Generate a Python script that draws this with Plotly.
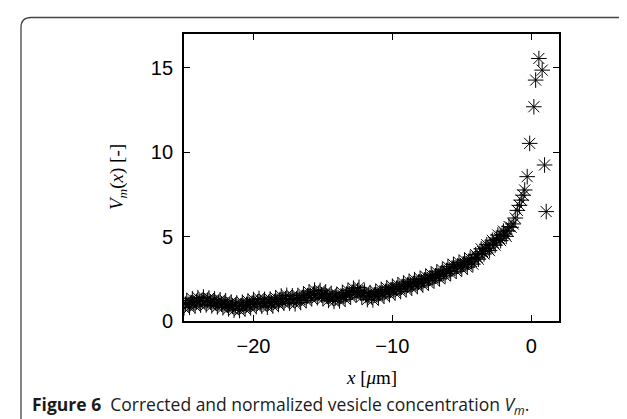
import plotly.graph_objects as go

# ---- data ----
x_dense = [
    -25.0, -24.8, -24.6, -24.4, -24.2, -24.0, -23.8, -23.6, -23.4, -23.2,
    -23.0, -22.8, -22.6, -22.4, -22.2, -22.0, -21.8, -21.6, -21.4, -21.2,
    -21.0, -20.8, -20.6, -20.4, -20.2, -20.0, -19.8, -19.6, -19.4, -19.2,
    -19.0, -18.8, -18.6, -18.4, -18.2, -18.0, -17.8, -17.6, -17.4, -17.2,
    -17.0, -16.8, -16.6, -16.4, -16.2, -16.0, -15.8, -15.6, -15.4, -15.2,
    -15.0, -14.8, -14.6, -14.4, -14.2, -14.0, -13.8, -13.6, -13.4, -13.2,
    -13.0, -12.8, -12.6, -12.4, -12.2, -12.0, -11.8, -11.6, -11.4, -11.2,
    -11.0, -10.8, -10.6, -10.4, -10.2, -10.0, -9.8, -9.6, -9.4, -9.2,
    -9.0, -8.8, -8.6, -8.4, -8.2, -8.0, -7.8, -7.6, -7.4, -7.2,
    -7.0, -6.8, -6.6, -6.4, -6.2, -6.0, -5.8, -5.6, -5.4, -5.2,
    -5.0, -4.8, -4.6, -4.4, -4.2, -4.0, -3.8, -3.6, -3.4, -3.2,
    -3.0, -2.8, -2.6, -2.4, -2.2, -2.0, -1.8, -1.6,
]
v_dense = [
    0.78, 1.22, 0.81, 1.32, 0.88, 1.38, 0.94, 1.42, 0.96, 1.36,
    0.90, 1.31, 0.84, 1.26, 0.79, 1.20, 0.72, 1.12, 0.64, 1.07,
    0.62, 1.11, 0.71, 1.19, 0.78, 1.27, 0.85, 1.34, 0.88, 1.28,
    0.82, 1.30, 0.89, 1.38, 0.98, 1.48, 1.05, 1.52, 1.06, 1.49,
    1.02, 1.51, 1.10, 1.60, 1.21, 1.72, 1.32, 1.83, 1.38, 1.81,
    1.32, 1.72, 1.22, 1.63, 1.16, 1.58, 1.19, 1.69, 1.29, 1.81,
    1.42, 1.94, 1.55, 1.99, 1.43, 1.77, 1.27, 1.68, 1.25, 1.76,
    1.37, 1.87, 1.47, 1.97, 1.56, 2.06, 1.66, 2.15, 1.75, 2.25,
    1.85, 2.35, 1.95, 2.45, 2.04, 2.52, 2.13, 2.65, 2.25, 2.77,
    2.39, 2.90, 2.50, 3.03, 2.67, 3.22, 2.83, 3.35, 2.95, 3.47,
    3.09, 3.60, 3.19, 3.72, 3.37, 3.93, 3.66, 4.27, 3.97, 4.52,
    4.17, 4.78, 4.49, 5.09, 4.76, 5.32, 5.01, 5.60,
]
x_mid = [
    -24.9, -24.7, -24.5, -24.3, -24.1, -23.9, -23.7, -23.5, -23.3, -23.1,
    -22.9, -22.7, -22.5, -22.3, -22.1, -21.9, -21.7, -21.5, -21.3, -21.1,
    -20.9, -20.7, -20.5, -20.3, -20.1, -19.9, -19.7, -19.5, -19.3, -19.1,
    -18.9, -18.7, -18.5, -18.3, -18.1, -17.9, -17.7, -17.5, -17.3, -17.1,
    -16.9, -16.7, -16.5, -16.3, -16.1, -15.9, -15.7, -15.5, -15.3, -15.1,
    -14.9, -14.7, -14.5, -14.3, -14.1, -13.9, -13.7, -13.5, -13.3, -13.1,
    -12.9, -12.7, -12.5, -12.3, -12.1, -11.9, -11.7, -11.5, -11.3, -11.1,
    -10.9, -10.7, -10.5, -10.3, -10.1, -9.9, -9.7, -9.5, -9.3, -9.1,
    -8.9, -8.7, -8.5, -8.3, -8.1, -7.9, -7.7, -7.5, -7.3, -7.1,
    -6.9, -6.7, -6.5, -6.3, -6.1, -5.9, -5.7, -5.5, -5.3, -5.1,
    -4.9, -4.7, -4.5, -4.3, -4.1, -3.9, -3.7, -3.5, -3.3, -3.1,
    -2.9, -2.7, -2.5, -2.3, -2.1, -1.9, -1.7,
]
v_mid = [
    1.00, 0.99, 1.09, 1.07, 1.16, 1.14, 1.22, 1.17, 1.20, 1.12,
    1.14, 1.06, 1.08, 1.00, 1.03, 0.95, 0.96, 0.87, 0.90, 0.84,
    0.90, 0.89, 0.98, 0.97, 1.06, 1.05, 1.13, 1.09, 1.12, 1.04,
    1.10, 1.08, 1.16, 1.16, 1.27, 1.25, 1.32, 1.28, 1.31, 1.24,
    1.30, 1.29, 1.39, 1.39, 1.50, 1.51, 1.61, 1.59, 1.63, 1.55,
    1.56, 1.46, 1.46, 1.38, 1.40, 1.37, 1.47, 1.47, 1.58, 1.60,
    1.71, 1.72, 1.80, 1.68, 1.63, 1.51, 1.51, 1.45, 1.54, 1.55,
    1.66, 1.66, 1.75, 1.75, 1.85, 1.84, 1.94, 1.94, 2.04, 2.04,
    2.14, 2.14, 2.23, 2.22, 2.31, 2.31, 2.42, 2.43, 2.55, 2.57,
    2.68, 2.68, 2.79, 2.83, 2.98, 3.01, 3.12, 3.13, 3.25, 3.27,
    3.38, 3.38, 3.49, 3.53, 3.68, 3.77, 4.00, 4.11, 4.28, 4.33,
    4.51, 4.62, 4.82, 4.90, 5.07, 5.15, 5.34,
]
x_tail = [-1.45, -1.30, -1.15, -1.00, -0.85, -0.72, -0.58, -0.47, -0.29,
          -0.11, 0.19, 0.32, 0.55, 0.79, 0.96, 1.08]
v_tail = [5.55, 5.75, 6.10, 6.55, 6.85, 7.16, 7.45, 7.76, 8.55,
          10.52, 12.69, 14.27, 15.55, 14.86, 9.24, 6.48]

x_ticks = [-20, -10, 0]
y_ticks = [0, 5, 10, 15]

x_all = x_dense + x_mid + x_tail
v_all = v_dense + v_mid + v_tail

# ---- layout geometry (pixels) ----
W, H = 627, 419
ML, MR, MT, MB = 176, 76, 26, 106
PW, PH = W - ML - MR, H - MT - MB


def px(xp):
    return (xp - ML) / PW


def py(yp):
    return (H - MB - yp) / PH


fig = go.Figure()
fig.add_trace(go.Scatter(
    x=x_all, y=v_all, mode="markers",
    marker=dict(symbol="asterisk-open", size=13, color="black",
                line=dict(color="black", width=1)),
    hoverinfo="skip", showlegend=False,
))

axis_common = dict(
    showline=True, linecolor="black", linewidth=1.8, mirror="ticks",
    ticks="inside", ticklen=6, tickwidth=1.2, tickcolor="black",
    showgrid=False, zeroline=False,
    tickfont=dict(family="Liberation Sans, Arial, sans-serif", size=20, color="black"),
)

fig.update_xaxes(range=[-25, 2], tickvals=x_ticks, ticklabelstandoff=6, **axis_common)
fig.update_yaxes(range=[0, 17], tickvals=y_ticks, ticklabelstandoff=5, **axis_common)

serif = dict(family="Liberation Serif, Times New Roman, serif", size=19, color="black")

annotations = [
    dict(text="<i>x</i> [<i>μ</i>m]", xref="paper", yref="paper",
         x=px(363), y=py(369), xanchor="center", yanchor="middle",
         showarrow=False, font=serif),
    dict(text="<i>V<sub>m</sub></i>(<i>x</i>) [-]", xref="paper", yref="paper",
         x=px(110), y=py(169), xanchor="center", yanchor="middle",
         textangle=-90, showarrow=False, font=serif),
    dict(text="<b>Figure 6</b>  Corrected and normalized vesicle concentration <i>V<sub>m</sub></i>.",
         xref="paper", yref="paper", x=px(22), y=py(397),
         xanchor="left", yanchor="middle", showarrow=False,
         font=dict(family="Open Sans, Noto Sans, sans-serif", size=17.5, color="#1a1a1a")),
]

# outer frame: left line + rounded top-left corner + top line
r = 10
fx, fy = 13, 9.5
path = (f"M {px(fx)},{py(H)} L {px(fx)},{py(fy + r)} "
        f"Q {px(fx)},{py(fy)} {px(fx + r)},{py(fy)} L {px(W)},{py(fy)}")
shapes = [dict(type="path", xref="paper", yref="paper", path=path,
               line=dict(color="#444", width=1.3))]

fig.update_layout(
    width=W, height=H,
    margin=dict(l=ML, r=MR, t=MT, b=MB, pad=0),
    plot_bgcolor="white", paper_bgcolor="white",
    annotations=annotations, shapes=shapes,
    showlegend=False, hovermode=False,
)

fig.write_html("out.html")
